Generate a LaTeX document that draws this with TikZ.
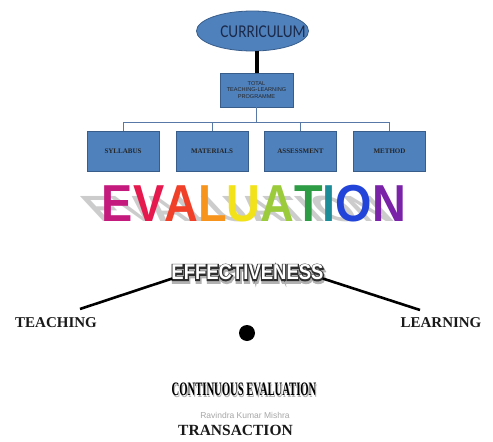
\documentclass[tikz,border=0pt]{standalone}
\usepackage{fontspec}
\setmainfont{Liberation Serif}
\setsansfont{Liberation Sans}
\newfontfamily\calib{Carlito}
\usetikzlibrary{shapes.geometric,calc}
\definecolor{boxblue}{HTML}{4F81BD}
\definecolor{boxedge}{HTML}{385D8A}
\definecolor{navytext}{HTML}{1B2A4A}
\definecolor{busline}{HTML}{5878A8}
\definecolor{cE}{HTML}{C41A7E}
\definecolor{cV}{HTML}{E6194F}
\definecolor{cA}{HTML}{F0402A}
\definecolor{cL}{HTML}{F7941D}
\definecolor{cU}{HTML}{F2E21A}
\definecolor{cA2}{HTML}{9BCB3B}
\definecolor{cT}{HTML}{2E9C45}
\definecolor{cI}{HTML}{1C8C98}
\definecolor{cO}{HTML}{2244D8}
\definecolor{cN}{HTML}{7A22A8}
\tikzset{
  bluebox/.style={draw=boxedge, fill=boxblue, line width=0.6pt, rectangle, minimum width=72pt, minimum height=40pt, inner sep=1pt},
  leaftext/.style={font=\fontsize{7}{8}\selectfont\bfseries, text=black!85},
  bigword/.style={font=\fontsize{15}{17}\selectfont\bfseries, text=black!90},
  thickline/.style={line width=2.6pt, black},
}
\newcommand{\evalword}[1]{\scalebox{0.9}[1]{\fontsize{52}{56}\selectfont\sffamily\bfseries #1}}
\newcommand{\effword}{\scalebox{0.86}[1]{\fontsize{21.5}{23}\selectfont\sffamily\bfseries EFFECTIVENESS}}
\newcommand{\effoutline}{\special{pdf:literal direct 2 Tr 2.6 w 0.18 0.18 0.18 RG}\effword\special{pdf:literal direct 0 Tr}}
\newcommand{\effglow}{\special{pdf:literal direct 2 Tr 4 w 0.7 0.7 0.7 RG}\effword\special{pdf:literal direct 0 Tr}}
\newcommand{\contword}{\scalebox{0.56}[1]{\fontsize{19}{20}\selectfont\bfseries CONTINUOUS EVALUATION}}
\begin{document}
\begin{tikzpicture}[x=1pt,y=-1pt]
\useasboundingbox[fill=white] (0,0) rectangle (493,442);
% curriculum ellipse
\node[ellipse, draw=boxedge, fill=boxblue, line width=0.8pt, minimum width=112pt, minimum height=40pt, inner sep=0pt] (cur) at (252.5,31) {};
\node[font=\calib\fontsize{18}{19}\selectfont, text=navytext, inner sep=0pt] (curtext) at (263,32) {\scalebox{0.85}[1]{CURRICULUM}};
% total box
\node[bluebox, minimum width=73pt, minimum height=34pt, align=center, font=\sffamily\fontsize{5.6}{6.6}\selectfont, text=black!85] (total) at (256.5,90) {TOTAL\\TEACHING-LEARNING\\PROGRAMME};
\draw[line width=4pt] (total.north) -- (total.north |- cur.south);
% leaf boxes
\node[bluebox] (syl) at (123,151) {};
\node[leaftext] at (syl) {SYLLABUS};
\node[bluebox] (mat) at (212,151) {};
\node[leaftext] at (mat) {MATERIALS};
\node[bluebox] (ass) at (300.5,151) {};
\node[leaftext] at (ass) {ASSESSMENT};
\node[bluebox] (met) at (389.5,151) {};
\node[leaftext] at (met) {METHOD};
\coordinate (bus) at (256.5,122);
\draw[busline, line width=0.9pt] (total.south) -- (bus);
\foreach \b in {syl,mat,ass,met}{
  \draw[busline, line width=0.9pt] (\b.north) |- (bus);
}
% EVALUATION shadow + word
\node[anchor=base, text=black!20, inner sep=0pt, yscale=0.7, xslant=-0.65, transform shape] (evalsh) at (249,221) {\evalword{EVALUATION}};
\node[anchor=base, inner sep=0pt] (eval) at (254,221) {\evalword{\textcolor{cE}{E}\textcolor{cV}{V}\textcolor{cA}{A}\textcolor{cL}{L}\textcolor{cU}{U}\textcolor{cA2}{A}\textcolor{cT}{T}\textcolor{cI}{I}\textcolor{cO}{O}\textcolor{cN}{N}}};
% EFFECTIVENESS outlined
\node[inner sep=0pt, text=black!55] (effsh) at (248.5,274.5) {\effglow};
\node[inner sep=0pt, text=black!80] (effout) at (247.5,272.5) {\effoutline};
\node[inner sep=0pt, text=white] (eff) at (247.5,272.5) {\effword};
% teaching / learning
\node[bigword] (teach) at (56,323) {TEACHING};
\node[bigword] (learn) at (441,323) {LEARNING};
\coordinate (tl) at (80,309);
\coordinate (tr) at (420,310);
\draw[thickline] (tl) -- ([xshift=1pt,yshift=-6pt]effout.west);
\draw[thickline] ([xshift=-1pt,yshift=-6pt]effout.east) -- (tr);
% dot
\node[circle, fill=black, minimum size=16pt, inner sep=0pt] (dot) at (247,333) {};
% continuous evaluation
\node[inner sep=0pt, text=black!30] at (245,391) {\contword};
\node[inner sep=0pt, text=black] (cont) at (244,389) {\contword};
% author and transaction
\node[font=\sffamily\fontsize{8.5}{9}\selectfont, text=black!35, inner sep=0pt] (auth) at (245,415) {Ravindra Kumar Mishra};
\node[font=\fontsize{15.5}{17}\selectfont\bfseries, text=black!90, inner sep=0pt] (trans) at (235.5,430) {TRANSACTION};
\end{tikzpicture}
\end{document}
